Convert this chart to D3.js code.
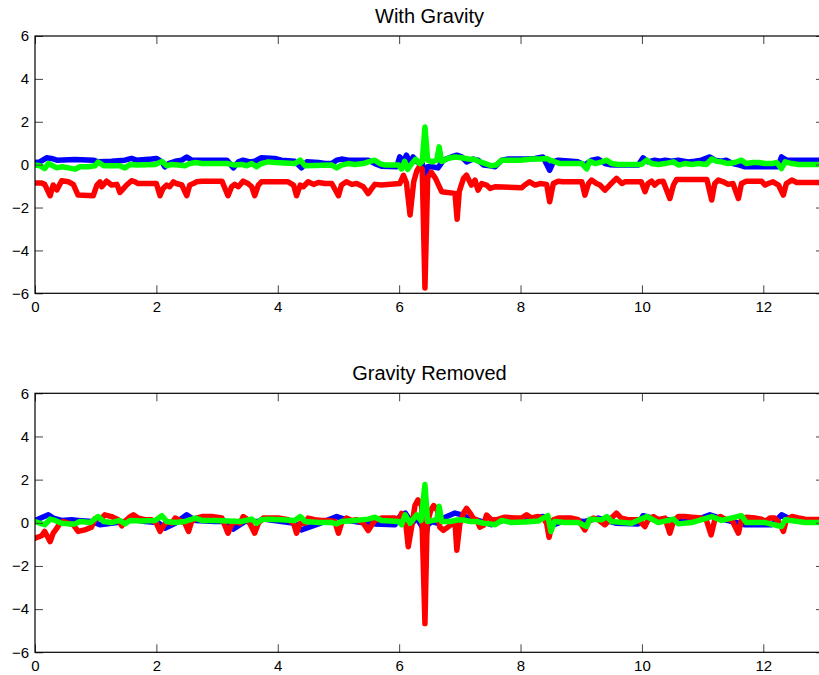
<!DOCTYPE html>
<html>
<head>
<meta charset="utf-8">
<script src="https://cdn.jsdelivr.net/npm/d3@7"></script>
<style>
  html, body { margin: 0; padding: 0; background: #fff; }
  svg { display: block; }
  text { font-family: "Liberation Sans", Arial, Helvetica, sans-serif; fill: #000; }
</style>
</head>
<body>
<svg id="chart" width="819" height="675"></svg>
<script>
// Accelerometer traces, [time (s), acceleration] vertices for each axis.

// --- Panel 1: raw signal (with gravity) ---
const withGravityX = [
  [0.00,0.10],[0.08,0.13],[0.19,0.32],[0.27,0.29],[0.36,0.21],[0.66,0.24],[0.96,0.21],[1.04,0.13],
  [1.26,0.16],[1.48,0.21],[1.59,0.29],[1.67,0.21],[1.92,0.26],[2.00,0.29],[2.09,0.13],[2.14,-0.10],
  [2.20,0.05],[2.31,0.16],[2.42,0.21],[2.50,0.36],[2.58,0.21],[3.16,0.21],[3.27,-0.15],[3.35,0.13],
  [3.43,0.21],[3.54,0.13],[3.62,0.16],[3.73,0.32],[3.95,0.29],[4.06,0.21],[4.28,0.16],[4.39,-0.15],
  [4.48,0.13],[4.67,0.10],[4.78,0.05],[4.89,0.05],[4.97,0.21],[5.05,0.26],[5.16,0.21],[5.49,0.21],
  [5.60,0.05],[5.71,-0.07],[5.96,-0.10],[6.01,0.36],[6.07,0.13],[6.12,0.44],[6.18,0.05],[6.23,0.36],
  [6.30,0.13],[6.38,0.05],[6.42,-0.55],[6.47,-0.10],[6.54,-0.10],[6.64,-0.15],[6.73,0.21],[6.86,0.36],
  [6.95,0.44],[7.03,0.36],[7.11,0.13],[7.22,0.26],[7.30,0.21],[7.39,-0.02],[7.50,-0.05],[7.58,-0.10],
  [7.69,0.21],[7.80,0.26],[8.08,0.26],[8.24,0.29],[8.37,0.36],[8.48,-0.26],[8.54,0.13],[8.62,0.21],
  [8.95,0.13],[9.06,-0.02],[9.17,0.21],[9.28,0.26],[9.39,0.05],[9.47,0.00],[9.58,-0.02],[9.94,-0.02],
  [10.02,0.32],[10.10,0.13],[10.21,0.21],[10.30,0.16],[10.38,0.21],[10.49,0.16],[10.60,0.21],[10.76,0.13],
  [10.87,0.16],[10.98,0.21],[11.12,0.36],[11.20,0.21],[11.31,0.16],[11.39,0.21],[11.50,0.05],[11.61,-0.02],
  [11.70,-0.10],[12.24,-0.10],[12.30,0.36],[12.38,0.21],[12.50,0.21],[13.00,0.21]
];
const withGravityZ = [
  [0.00,-0.85],[0.10,-0.85],[0.16,-0.92],[0.25,-1.45],[0.30,-0.95],[0.36,-1.18],[0.44,-0.75],[0.55,-0.80],
  [0.63,-0.92],[0.71,-1.42],[0.96,-1.45],[1.02,-0.95],[1.07,-0.80],[1.10,-1.03],[1.18,-0.77],[1.26,-0.95],
  [1.35,-0.92],[1.40,-1.30],[1.46,-1.11],[1.51,-0.95],[1.59,-0.75],[1.65,-0.80],[1.70,-0.88],[2.00,-0.88],
  [2.06,-1.45],[2.11,-1.11],[2.17,-0.95],[2.22,-1.03],[2.28,-0.80],[2.33,-0.88],[2.42,-0.95],[2.50,-1.45],
  [2.55,-0.95],[2.61,-0.88],[2.66,-0.80],[2.75,-0.77],[3.08,-0.77],[3.18,-1.45],[3.24,-1.03],[3.29,-0.92],
  [3.35,-1.03],[3.43,-0.77],[3.51,-0.88],[3.57,-1.03],[3.62,-1.45],[3.68,-0.95],[3.73,-0.80],[4.17,-0.80],
  [4.26,-0.95],[4.31,-1.45],[4.37,-0.95],[4.42,-1.03],[4.50,-0.80],[4.59,-0.92],[4.67,-0.83],[4.78,-0.88],
  [4.89,-0.88],[5.00,-1.45],[5.05,-0.95],[5.13,-0.80],[5.22,-0.92],[5.30,-0.88],[5.41,-1.03],[5.49,-1.35],
  [5.55,-1.11],[5.60,-0.92],[5.71,-0.95],[6.01,-0.88],[6.07,-0.50],[6.12,-0.85],[6.18,-2.35],[6.24,-0.80],
  [6.29,-0.30],[6.33,-0.10],[6.38,-0.20],[6.425,-5.75],[6.47,-0.60],[6.53,-0.35],[6.60,-0.65],[6.70,-1.26],
  [6.92,-1.34],[6.955,-2.55],[6.99,-1.26],[7.06,-0.64],[7.11,-0.49],[7.19,-0.95],[7.25,-0.72],[7.30,-1.19],
  [7.36,-0.88],[7.44,-0.95],[7.50,-1.11],[7.58,-1.03],[8.02,-1.08],[8.07,-0.95],[8.15,-0.80],[8.24,-0.95],
  [8.32,-0.88],[8.43,-0.92],[8.48,-1.73],[8.54,-0.88],[8.62,-0.77],[8.70,-0.80],[9.01,-0.80],[9.06,-1.42],
  [9.12,-0.88],[9.17,-0.72],[9.25,-0.88],[9.31,-0.95],[9.39,-1.19],[9.47,-0.95],[9.58,-0.64],[9.67,-0.88],
  [9.72,-0.80],[9.99,-0.80],[10.05,-1.26],[10.10,-0.88],[10.16,-0.77],[10.21,-0.95],[10.27,-0.80],[10.35,-0.77],
  [10.46,-1.58],[10.52,-0.95],[10.57,-0.69],[11.07,-0.69],[11.15,-1.65],[11.20,-0.88],[11.26,-0.72],[11.34,-0.80],
  [11.42,-0.92],[11.50,-0.88],[11.59,-1.58],[11.64,-0.88],[11.72,-0.77],[11.97,-0.77],[12.03,-0.95],[12.08,-0.88],
  [12.16,-0.80],[12.25,-0.95],[12.33,-1.42],[12.38,-0.88],[12.47,-0.72],[12.55,-0.83],[13.00,-0.83]
];
const withGravityY = [
  [0.00,-0.02],[0.08,-0.05],[0.16,-0.18],[0.22,0.05],[0.27,-0.02],[0.36,-0.15],[0.44,-0.10],[0.55,-0.15],
  [0.66,-0.21],[0.74,-0.10],[0.88,-0.10],[0.99,-0.05],[1.04,0.12],[1.13,-0.05],[1.40,-0.05],[1.48,-0.15],
  [1.57,0.01],[1.68,-0.02],[1.98,0.01],[2.09,0.15],[2.17,-0.05],[2.25,0.01],[2.36,-0.02],[2.47,-0.05],
  [2.55,0.05],[2.64,0.10],[2.75,0.05],[3.18,0.05],[3.29,-0.02],[3.40,0.01],[3.49,-0.05],[3.57,0.05],
  [3.65,-0.10],[3.73,0.05],[3.84,0.13],[3.95,0.10],[4.28,0.05],[4.37,0.21],[4.45,-0.05],[4.89,-0.02],
  [4.97,-0.15],[5.05,-0.02],[5.16,0.05],[5.27,0.01],[5.41,0.05],[5.49,0.13],[5.60,0.21],[5.68,0.05],
  [5.77,-0.02],[5.99,-0.02],[6.04,-0.20],[6.09,0.16],[6.14,-0.22],[6.20,0.02],[6.27,0.25],[6.34,0.05],
  [6.38,0.15],[6.425,1.76],[6.47,0.21],[6.54,0.13],[6.62,0.21],[6.66,0.83],[6.70,0.15],[6.81,0.30],
  [6.92,0.36],[7.03,0.32],[7.14,0.26],[7.25,0.24],[7.30,0.16],[7.42,0.05],[7.52,-0.05],[7.60,-0.02],
  [7.69,0.21],[7.85,0.21],[8.00,0.21],[8.18,0.26],[8.32,0.26],[8.43,0.29],[8.48,0.21],[8.54,0.16],
  [8.65,0.05],[8.76,0.05],[8.90,0.05],[9.01,0.05],[9.09,-0.20],[9.14,0.16],[9.23,0.05],[9.34,0.13],
  [9.42,0.21],[9.50,0.05],[9.61,0.01],[9.99,0.01],[10.08,0.21],[10.16,0.05],[10.27,0.01],[10.38,0.05],
  [10.52,0.13],[10.60,-0.02],[10.71,0.05],[10.82,0.01],[10.93,0.05],[11.06,0.01],[11.15,0.26],[11.23,0.16],
  [11.31,0.13],[11.42,0.05],[11.53,0.10],[11.64,0.21],[11.72,0.05],[11.83,0.10],[11.92,0.10],[12.03,0.05],
  [12.14,0.05],[12.22,0.10],[12.30,-0.18],[12.36,0.13],[12.47,0.05],[12.58,0.01],[13.00,0.01]
];

// --- Panel 2: linear acceleration (gravity removed) ---
const removedX = [
  [0.00,0.11],[0.22,0.37],[0.30,0.22],[0.44,0.11],[0.60,0.14],[0.71,0.11],[0.93,0.06],[1.07,-0.09],
  [1.26,-0.02],[1.48,0.06],[1.59,0.17],[1.81,0.06],[2.03,0.01],[2.14,-0.25],[2.31,-0.02],[2.50,0.37],
  [2.64,0.11],[2.97,0.06],[3.16,0.06],[3.27,-0.29],[3.46,0.06],[3.68,0.06],[3.76,0.17],[4.06,0.06],
  [4.28,-0.02],[4.39,-0.33],[4.67,-0.05],[4.97,0.29],[5.16,0.11],[5.38,0.01],[5.60,-0.05],[5.93,-0.09],
  [6.01,0.29],[6.10,0.45],[6.21,-0.02],[6.30,0.20],[6.38,-0.20],[6.42,-1.00],[6.47,-0.10],[6.54,0.06],
  [6.64,-0.02],[6.73,0.22],[6.92,0.45],[7.03,0.37],[7.14,0.22],[7.30,0.11],[7.52,-0.09],[7.74,0.14],
  [8.07,0.14],[8.37,0.29],[8.48,-0.17],[8.73,0.11],[9.06,0.06],[9.28,0.22],[9.58,-0.02],[9.94,-0.05],
  [10.02,0.33],[10.27,0.14],[10.60,0.14],[10.82,0.06],[11.12,0.37],[11.37,0.14],[11.70,-0.09],[12.14,-0.09],
  [12.30,0.37],[12.47,0.14],[13.00,0.14]
];
const removedZ = [
  [0.00,-0.71],[0.11,-0.60],[0.16,-0.40],[0.25,-0.87],[0.30,-0.48],[0.36,-0.25],[0.41,-0.02],[0.47,0.06],
  [0.55,-0.02],[0.63,-0.09],[0.71,-0.40],[0.82,-0.33],[0.93,-0.20],[0.99,0.20],[1.10,0.22],[1.15,0.37],
  [1.26,0.29],[1.37,0.14],[1.43,-0.14],[1.48,0.06],[1.57,0.29],[1.62,0.37],[1.70,0.22],[1.81,0.14],
  [1.92,0.14],[2.00,-0.02],[2.06,-0.40],[2.11,-0.17],[2.17,0.06],[2.25,-0.02],[2.31,0.22],[2.39,0.11],
  [2.47,-0.02],[2.53,-0.40],[2.58,0.06],[2.66,0.22],[2.75,0.29],[2.91,0.29],[3.08,0.22],[3.18,-0.48],
  [3.24,-0.09],[3.29,0.06],[3.38,-0.02],[3.43,0.29],[3.51,0.14],[3.62,-0.48],[3.68,-0.02],[3.76,0.22],
  [3.84,0.22],[4.01,0.22],[4.17,0.14],[4.26,-0.02],[4.31,-0.48],[4.37,-0.02],[4.45,-0.02],[4.50,0.22],
  [4.61,0.14],[4.72,0.11],[4.83,0.11],[4.94,0.06],[5.00,-0.48],[5.05,-0.02],[5.13,0.22],[5.22,0.11],
  [5.30,0.14],[5.41,-0.02],[5.49,-0.36],[5.55,-0.09],[5.60,0.11],[5.71,0.22],[5.93,0.22],[6.01,0.14],
  [6.04,0.44],[6.10,0.21],[6.15,-1.11],[6.21,-0.12],[6.26,0.80],[6.31,1.06],[6.37,0.80],[6.425,-4.67],
  [6.46,-0.05],[6.52,0.57],[6.57,0.80],[6.63,0.57],[6.67,-0.20],[6.73,-0.35],[6.84,-0.12],[6.92,0.04],
  [6.95,-1.27],[7.00,-0.05],[7.06,0.44],[7.11,0.67],[7.17,0.44],[7.22,0.21],[7.28,0.13],[7.33,-0.20],
  [7.39,-0.12],[7.44,0.36],[7.52,0.14],[7.60,0.14],[7.74,0.26],[7.91,0.22],[8.02,0.22],[8.10,0.37],
  [8.18,0.22],[8.29,0.29],[8.37,0.22],[8.43,-0.02],[8.47,-0.67],[8.54,0.14],[8.62,0.22],[8.73,0.22],
  [8.84,0.22],[8.95,0.14],[9.06,-0.33],[9.12,0.06],[9.20,0.22],[9.28,0.14],[9.39,-0.09],[9.47,0.14],
  [9.58,0.45],[9.66,0.22],[9.77,0.14],[9.94,0.14],[10.05,-0.17],[10.10,0.14],[10.19,0.29],[10.27,0.14],
  [10.38,0.22],[10.46,-0.48],[10.52,0.06],[10.60,0.29],[10.71,0.29],[10.82,0.26],[10.98,0.22],[11.06,0.14],
  [11.14,-0.56],[11.20,0.14],[11.29,0.29],[11.37,0.17],[11.48,0.14],[11.59,-0.48],[11.64,0.14],[11.72,0.26],
  [11.86,0.22],[11.97,0.17],[12.03,0.06],[12.11,0.22],[12.19,0.22],[12.27,-0.02],[12.33,-0.40],[12.38,0.14],
  [12.47,0.29],[12.58,0.22],[12.69,0.17],[13.00,0.14]
];
const removedY = [
  [0.00,0.06],[0.16,-0.09],[0.25,0.17],[0.33,0.11],[0.44,-0.02],[0.55,-0.05],[0.66,-0.05],[0.74,0.06],
  [0.91,0.01],[1.04,0.29],[1.13,0.06],[1.26,0.01],[1.40,0.11],[1.48,-0.05],[1.57,0.11],[1.76,0.08],
  [1.98,0.11],[2.09,0.33],[2.17,0.06],[2.31,0.01],[2.47,0.06],[2.55,0.14],[2.64,0.22],[2.75,0.11],
  [2.97,0.11],[3.18,0.08],[3.40,0.06],[3.57,0.17],[3.65,-0.02],[3.73,0.14],[3.84,0.17],[4.06,0.14],
  [4.28,0.11],[4.37,0.29],[4.45,0.06],[4.67,0.01],[4.89,0.01],[4.97,-0.05],[5.05,0.06],[5.27,0.11],
  [5.49,0.17],[5.60,0.26],[5.71,0.11],[5.99,0.06],[6.04,-0.09],[6.10,0.37],[6.18,-0.02],[6.29,0.37],
  [6.36,0.10],[6.425,1.77],[6.47,0.06],[6.54,0.10],[6.62,0.14],[6.66,0.76],[6.70,0.06],[6.84,0.06],
  [6.95,0.13],[7.06,0.13],[7.17,0.06],[7.28,0.06],[7.39,-0.02],[7.50,-0.05],[7.58,-0.09],[7.69,0.11],
  [7.85,0.01],[8.07,0.04],[8.29,0.08],[8.45,0.33],[8.50,-0.40],[8.56,0.06],[8.73,0.01],[8.95,0.01],
  [9.09,-0.17],[9.14,0.17],[9.34,0.14],[9.42,0.29],[9.50,0.06],[9.83,-0.02],[10.08,0.29],[10.27,0.01],
  [10.52,0.17],[10.60,-0.05],[10.82,0.01],[11.15,0.29],[11.31,0.11],[11.64,0.33],[11.72,0.01],[12.03,0.01],
  [12.30,-0.17],[12.36,0.14],[12.69,0.01],[13.00,0.01]
];

const xTicks = [0, 2, 4, 6, 8, 10, 12];
const yTicks = [-6, -4, -2, 0, 2, 4, 6];
const panelTitles = ["With Gravity", "Gravity Removed"];

// Layout
const svg = d3.select("#chart");
const W = 819, H = 675;
svg.append("rect").attr("width", W).attr("height", H).attr("fill", "#fff");

const plotLeft = 35, plotRight = 824;
const panels = [
  { title: panelTitles[0], top: 36, bottom: 293.3, series: [withGravityX, withGravityZ, withGravityY] },
  { title: panelTitles[1], top: 393.3, bottom: 652.3, series: [removedX, removedZ, removedY] }
];
const colors = ["#0000ff", "#ff0000", "#00ff00"];

const x = d3.scaleLinear().domain([0, 13]).range([plotLeft, plotRight]);

panels.forEach((p, i) => {
  const y = d3.scaleLinear().domain([-6, 6]).range([p.bottom, p.top]);
  const g = svg.append("g");

  const clipId = "clip" + i;
  svg.append("defs").append("clipPath").attr("id", clipId)
    .append("rect")
    .attr("x", plotLeft).attr("y", p.top)
    .attr("width", plotRight - plotLeft).attr("height", p.bottom - p.top);

  // traces
  const line = d3.line().x(d => x(d[0])).y(d => y(d[1]));
  const lines = g.append("g").attr("clip-path", `url(#${clipId})`);
  p.series.forEach((s, k) => {
    lines.append("path")
      .datum(s)
      .attr("d", line)
      .attr("fill", "none")
      .attr("stroke", colors[k])
      .attr("stroke-width", 5.5)
      .attr("stroke-linejoin", "round")
      .attr("stroke-linecap", "round");
  });

  // axes with inward ticks on all four sides
  const tickLen = 8;
  const styleAxis = sel => {
    sel.select(".domain").remove();
    sel.selectAll(".tick line").attr("stroke", "#444").attr("stroke-width", 1);
    sel.selectAll(".tick text").attr("font-size", 15).attr("fill", "#000")
      .attr("font-family", '"Liberation Sans", Arial, Helvetica, sans-serif');
  };

  g.append("g").attr("transform", `translate(0,${p.bottom})`)
    .call(d3.axisBottom(x).tickValues(xTicks).tickSize(-tickLen).tickPadding(8).tickFormat(d3.format("d")))
    .call(styleAxis);
  g.append("g").attr("transform", `translate(0,${p.top})`)
    .call(d3.axisTop(x).tickValues(xTicks).tickSize(-tickLen).tickFormat(""))
    .call(styleAxis);
  g.append("g").attr("transform", `translate(${plotLeft},0)`)
    .call(d3.axisLeft(y).tickValues(yTicks).tickSize(-tickLen).tickPadding(6)
      .tickFormat(d => d < 0 ? "\u2212" + Math.abs(d) : String(d)))
    .call(styleAxis);
  g.append("g").attr("transform", `translate(${plotRight},0)`)
    .call(d3.axisRight(y).tickValues(yTicks).tickSize(-tickLen).tickFormat(""))
    .call(styleAxis);

  // frame
  g.append("rect")
    .attr("x", plotLeft).attr("y", p.top)
    .attr("width", plotRight - plotLeft).attr("height", p.bottom - p.top)
    .attr("fill", "none").attr("stroke", "#000").attr("stroke-width", 1.2);

  // title
  g.append("text")
    .attr("x", (plotLeft + plotRight) / 2)
    .attr("y", p.top - 13)
    .attr("text-anchor", "middle")
    .attr("font-size", 20)
    .text(p.title);
});
</script>
</body>
</html>
